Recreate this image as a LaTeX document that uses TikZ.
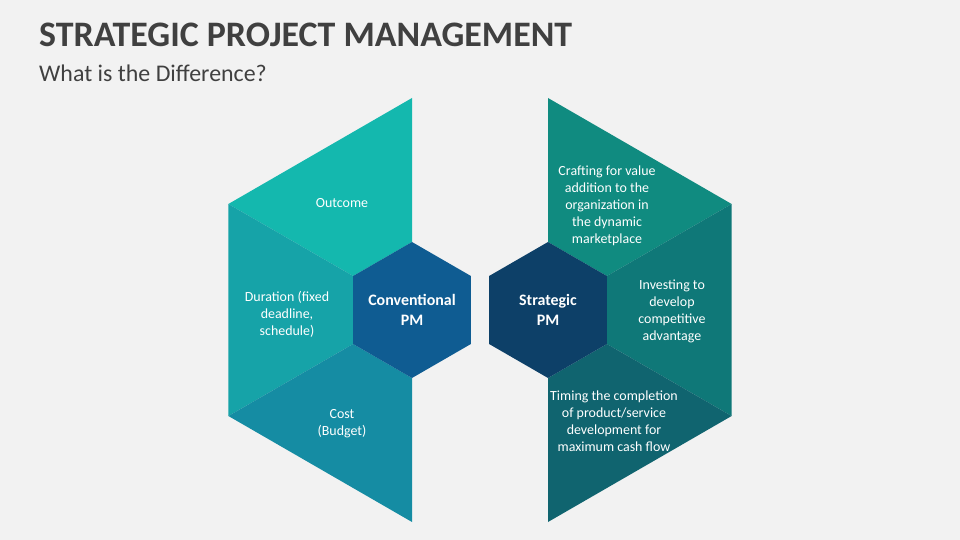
\documentclass[tikz,border=0pt]{standalone}
\usepackage{fontspec}
\setmainfont{Carlito}
\usepackage{tikz}
\usetikzlibrary{shapes.geometric}

\definecolor{bggray}{HTML}{F2F2F2}
\definecolor{titlegray}{HTML}{404040}
\definecolor{outcomeC}{HTML}{14B8AE}
\definecolor{durationC}{HTML}{16A3A8}
\definecolor{costC}{HTML}{158CA3}
\definecolor{convC}{HTML}{0F5C92}
\definecolor{craftC}{HTML}{108B80}
\definecolor{investC}{HTML}{0F7878}
\definecolor{timingC}{HTML}{10646F}
\definecolor{stratC}{HTML}{0D4068}

\tikzset{
  celltext/.style={text=white, align=center, font=\fontsize{14}{17}\selectfont},
  hextext/.style={text=white, align=center, font=\bfseries\fontsize{16}{20}\selectfont},
  hexcell/.style={regular polygon, regular polygon sides=6, shape border rotate=30,
    minimum size=136bp, inner sep=0pt}
}

\begin{document}
\begin{tikzpicture}[x=1bp, y=-1bp]
    \fill[bggray] (0,0) rectangle (960,540);
    \useasboundingbox (0,0) rectangle (960,540);

    \node[anchor=base west, inner sep=0pt, text=titlegray, font=\bfseries\fontsize{36}{40}\selectfont] (title) at (39,47) {STRATEGIC PROJECT MANAGEMENT};
    \node[anchor=base west, inner sep=0pt, text=titlegray, font=\fontsize{24}{28}\selectfont] (subtitle) at (39,82) {What is the Difference?};

    % 左側の半分
    \fill[outcomeC] (412,98) -- (228.4,204) -- (353.1,276) -- (412,242) -- cycle;
    \fill[durationC] (228.4,204) -- (228.4,416) -- (353.1,344) -- (353.1,276) -- cycle;
    \fill[costC] (228.4,416) -- (412,522) -- (412,378) -- (353.1,344) -- cycle;

    % 右側の半分
    \fill[craftC] (548,98) -- (731.6,204) -- (606.9,276) -- (548,242) -- cycle;
    \fill[investC] (731.6,204) -- (731.6,416) -- (606.9,344) -- (606.9,276) -- cycle;
    \fill[timingC] (731.6,416) -- (548,522) -- (548,378) -- (606.9,344) -- cycle;

    \node[hexcell, fill=convC, label={[hextext]center:Conventional\\PM}] (conv) at (412,310) {};
    \node[hexcell, fill=stratC, label={[hextext]center:Strategic\\PM}] (strat) at (548,310) {};

    \node[celltext] (outcome) at (342,203) {Outcome};
    \node[celltext] (duration) at (287,314) {Duration (fixed\\deadline,\\schedule)};
    \node[celltext] (cost) at (342,424) {Cost\\(Budget)};

    \node[celltext] (craft) at (607,206) {Crafting for value\\addition to the\\organization in\\the dynamic\\marketplace};
    \node[celltext] (invest) at (672,311) {Investing to\\develop\\competitive\\advantage};
    \node[celltext] (timing) at (614,421) {Timing the completion\\of product/service\\development for\\maximum cash flow};

\end{tikzpicture}
\end{document}
